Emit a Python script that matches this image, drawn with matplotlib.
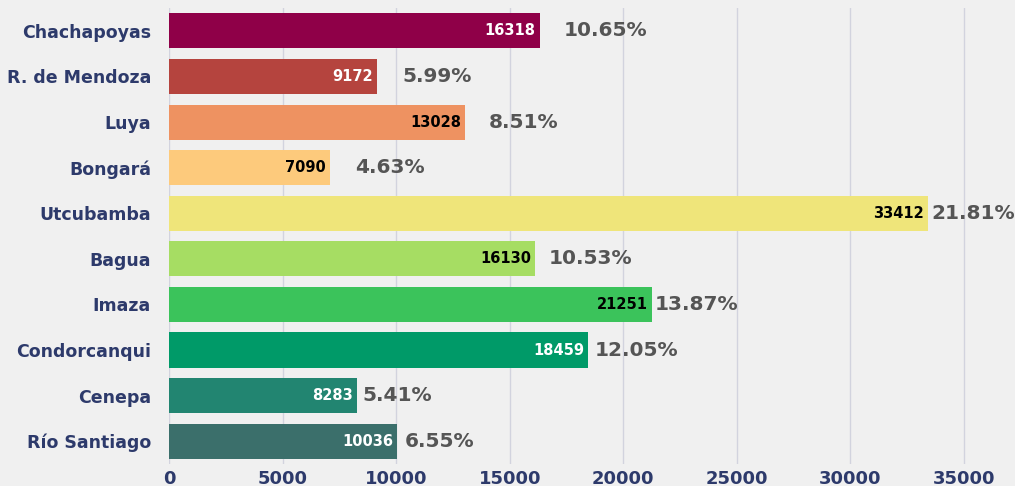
import matplotlib.pyplot as plt
from matplotlib.transforms import offset_copy

PROVINCES = ["Chachapoyas", "R. de Mendoza", "Luya", "Bongará", "Utcubamba",
             "Bagua", "Imaza", "Condorcanqui", "Cenepa", "Río Santiago"]
COUNTS = [16318, 9172, 13028, 7090, 33412, 16130, 21251, 18459, 8283, 10036]
SHARES = [10.65, 5.99, 8.51, 4.63, 21.81, 10.53, 13.87, 12.05, 5.41, 6.55]
XTICKS = [0, 5000, 10000, 15000, 20000, 25000, 30000, 35000]

COLORS = ["#8f0048", "#b5443e", "#ee9261", "#fdca7c", "#efe57a",
          "#a6dd63", "#3bc35b", "#009a68", "#228571", "#3b6f6b"]
INNER_TXT = ["white", "white", "black", "black", "black",
             "black", "black", "white", "white", "white"]
# gap (px) between bar end and the percent label, as drawn in the source
PCT_GAP = [24, 25, 24, 25, 3, 13, 3, 6, 5, 8]

NAVY = "#2d3a6b"
BG = "#f0f0f0"
plt.rcParams["font.family"] = ["DejaVu Sans"]

fig = plt.figure(figsize=(10.15, 4.86), dpi=100, facecolor=BG)
ax = fig.add_axes([0.1665, 0.0453, 0.828, 0.938], facecolor=BG)

y = range(len(PROVINCES))
ax.barh(y, COUNTS, height=0.77, color=COLORS, zorder=2)

for i, (v, p) in enumerate(zip(COUNTS, SHARES)):
    t_in = offset_copy(ax.transData, fig=fig, x=-4, y=0, units="dots")
    ax.text(v, i, f"{v}", transform=t_in, ha="right", va="center",
            fontsize=10.5, fontweight="bold", color=INNER_TXT[i], zorder=3)
    t_out = offset_copy(ax.transData, fig=fig, x=PCT_GAP[i], y=0, units="dots")
    ax.text(v, i, f"{p:.2f}%", transform=t_out, ha="left", va="center",
            fontsize=14.5, fontweight="bold", color="#555555", zorder=3)

ax.set_ylim(len(PROVINCES) - 0.5, -0.5)
ax.set_xlim(0, 37000)
ax.set_yticks(list(y))
ax.set_yticklabels(PROVINCES, fontsize=12.5, fontweight="bold", color=NAVY)
ax.set_xticks(XTICKS)
ax.set_xticklabels([str(t) for t in XTICKS], fontsize=13,
                   fontweight="bold", color=NAVY)
ax.tick_params(axis="y", length=0, pad=13)
ax.tick_params(axis="x", length=0, pad=4)
ax.grid(axis="x", color="#d2d3de", linewidth=1, zorder=0)
for s in ax.spines.values():
    s.set_visible(False)

fig.savefig("out.png", dpi=100, facecolor=BG)
